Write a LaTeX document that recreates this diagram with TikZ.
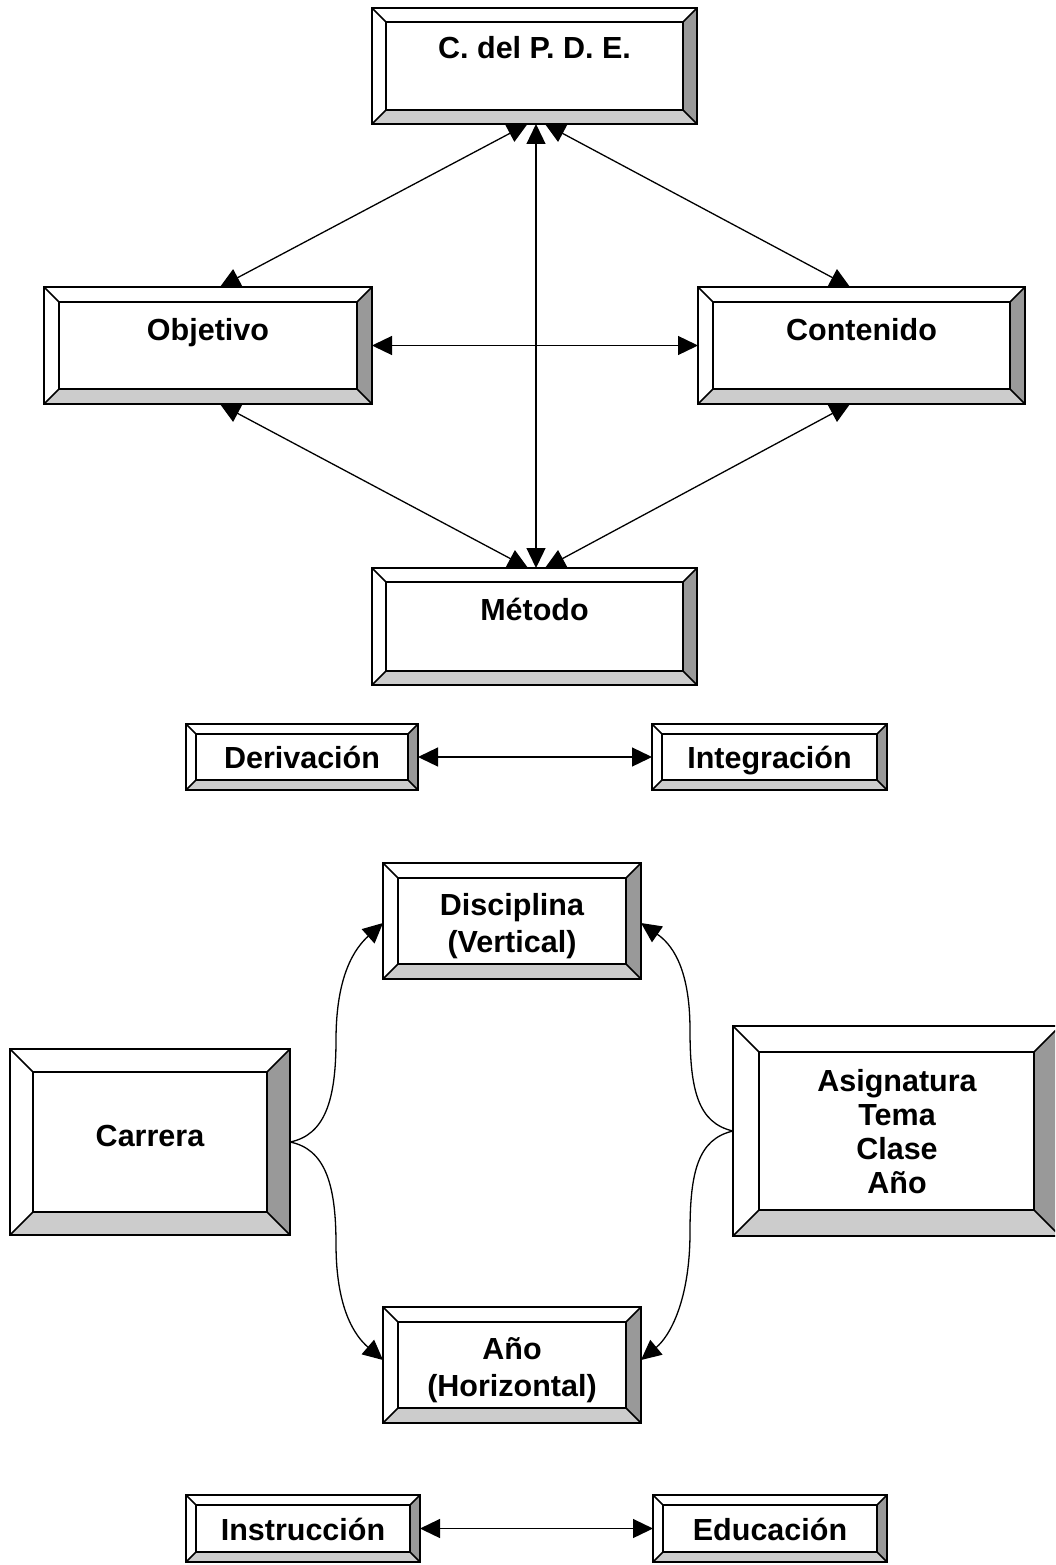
\documentclass[tikz,border=0pt]{standalone}
\usepackage{fontspec}
\setmainfont{Liberation Sans}
\usetikzlibrary{arrows.meta,fit}

\definecolor{bevdark}{RGB}{153,153,153}
\definecolor{bevlight}{RGB}{204,204,204}

\tikzset{
  boxline/.style={line width=2pt, line join=miter},
  bevline/.style={line width=1.6pt},
  lbl/.style={font=\fontsize{30.5}{36}\selectfont\bfseries, inner sep=0pt, anchor=base},
  tip/.style={Triangle[length=20pt,width=19pt]},
  dbl/.style={line width=1.3pt, {Triangle[length=20pt,width=19pt]}-{Triangle[length=20pt,width=19pt]}},
  sgl/.style={line width=1.3pt, -{Triangle[length=20pt,width=19pt]}},
}

% bevelled box: name, left, top, right, bottom, bevel width
\newcommand\bevelbox[6]{%
  \coordinate (#1-nw) at (#2,#3);
  \coordinate (#1-se) at (#4,#5);
  \node[fit=(#1-nw)(#1-se), inner sep=0pt, outer sep=0pt] (#1) {};
  \fill[white] (#2,#3) rectangle (#4,#5);
  \fill[bevdark] (#4,#3) -- (#4,#5) -- (#4-#6,#5-#6) -- (#4-#6,#3+#6) -- cycle;
  \fill[bevlight] (#2,#5) -- (#4,#5) -- (#4-#6,#5-#6) -- (#2+#6,#5-#6) -- cycle;
  \draw[boxline] (#2,#3) rectangle (#4,#5);
  \draw[boxline] (#2+#6,#3+#6) rectangle (#4-#6,#5-#6);
  \draw[bevline] (#2,#3) -- (#2+#6,#3+#6) (#4,#3) -- (#4-#6,#3+#6)
                 (#2,#5) -- (#2+#6,#5-#6) (#4,#5) -- (#4-#6,#5-#6);
}

\begin{document}
\begin{tikzpicture}[x=1pt,y=-1pt]
\useasboundingbox (0,0) rectangle (1055,1565);
\clip (0,0) rectangle (1055,1565);
\fill[white] (0,0) rectangle (1055,1565);

% upper diagram
\bevelbox{cpde}{372}{8}{697}{124}{14}
\bevelbox{obj}{44}{287}{372}{404}{15}
\bevelbox{con}{698}{287}{1025}{404}{15}
\bevelbox{met}{372}{568}{697}{685}{14}
\bevelbox{der}{186}{724}{418}{790}{10}
\bevelbox{int}{652}{724}{887}{790}{10}

% lower diagram
\bevelbox{dis}{383}{863}{641}{979}{15}
\bevelbox{car}{10}{1049}{290}{1235}{23}
\bevelbox{asi}{733}{1026}{1060}{1236}{26}
\bevelbox{ano}{383}{1307}{641}{1423}{15}
\bevelbox{ins}{186}{1495}{420}{1562}{10}
\bevelbox{edu}{653}{1495}{887}{1562}{10}

% labels
\node[lbl] (cpde-t) at (534.5,59) {C. del P. D. E.};
\node[lbl] (obj-t) at (208,340) {Objetivo};
\node[lbl] (con-t) at (861.5,340) {Contenido};
\node[lbl] (met-t) at (534.5,620) {Método};
\node[lbl] (der-t) at (302,768) {Derivación};
\node[lbl] (int-t) at (769.5,768) {Integración};
\node[lbl] (dis-t1) at (512,915) {Disciplina};
\node[lbl] (dis-t2) at (512,952) {(Vertical)};
\node[lbl] (car-t) at (150,1146) {Carrera};
\node[lbl] (asi-t1) at (897,1091) {Asignatura};
\node[lbl] (asi-t2) at (897,1125) {Tema};
\node[lbl] (asi-t3) at (897,1159) {Clase};
\node[lbl] (asi-t4) at (897,1193) {Año};
\node[lbl] (ano-t1) at (512,1359) {Año};
\node[lbl] (ano-t2) at (512,1396) {(Horizontal)};
\node[lbl] (ins-t) at (303,1540) {Instrucción};
\node[lbl] (edu-t) at (770,1540) {Educación};

% straight connectors
\draw[dbl] ([xshift=-7pt]cpde.south) -- ([xshift=12pt]obj.north);
\draw[dbl] ([xshift=10.5pt]cpde.south) -- ([xshift=-11.5pt]con.north);
\draw[dbl] ([xshift=1.5pt]cpde.south) -- ([xshift=1.5pt]met.north);
\draw[dbl] (obj.east) -- (con.west);
\draw[dbl] ([xshift=12pt]obj.south) -- ([xshift=-6.5pt]met.north);
\draw[dbl] ([xshift=-11.5pt]con.south) -- ([xshift=10.5pt]met.north);
\draw[dbl] (der.east) -- (int.west);
\draw[dbl] (ins.east) -- (edu.west);

% curved connectors
\draw[sgl] (car.east) .. controls (325,1135) and (336,1100) .. (336,1040)
  .. controls (336,975) and (355,948) .. ([yshift=-2pt]dis.west);
\draw[sgl] (car.east) .. controls (325,1149) and (336,1184) .. (336,1244)
  .. controls (336,1309) and (355,1336) .. ([yshift=5pt]ano.west);
\draw[sgl] (asi.west) .. controls (698,1123) and (690,1090) .. (690,1030)
  .. controls (690,965) and (670,943) .. ([yshift=-2pt]dis.east);
\draw[sgl] (asi.west) .. controls (698,1139) and (690,1172) .. (690,1232)
  .. controls (690,1300) and (670,1336) .. ([yshift=5pt]ano.east);
\end{tikzpicture}
\end{document}
